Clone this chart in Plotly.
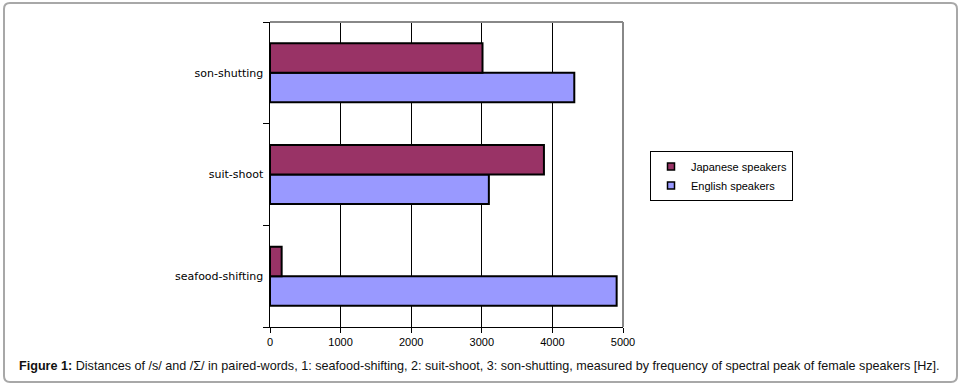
import plotly.graph_objects as go

categories = ["seafood-shifting", "suit-shoot", "son-shutting"]
japanese = [165, 3880, 3010]
english = [4910, 3100, 4310]
series_names = ["Japanese speakers", "English speakers"]
series_colors = ["#993366", "#9999FF"]
x_ticks = [0, 1000, 2000, 3000, 4000, 5000]
caption_bold = "Figure 1:"
caption_text = " Distances of /s/ and /Σ/ in paired-words, 1: seafood-shifting, 2: suit-shoot, 3: son-shutting, measured by frequency of spectral peak of female speakers [Hz]."

W, H = 964, 389
L, R, T, B = 270, 623, 22, 327  # plot area in px


def px(x):
    return (x - L) / (R - L)


def py(y):
    return (B - y) / (B - T)


fig = go.Figure()
fig.add_trace(go.Bar(
    y=categories, x=english, name=series_names[1], orientation="h",
    marker=dict(color=series_colors[1], line=dict(color="black", width=2)),
    showlegend=False,
))
fig.add_trace(go.Bar(
    y=categories, x=japanese, name=series_names[0], orientation="h",
    marker=dict(color=series_colors[0], line=dict(color="black", width=2)),
    showlegend=False,
))
# legend entries (small square swatches)
for name, col in zip(series_names, series_colors):
    fig.add_trace(go.Scatter(
        x=[None], y=[None], mode="markers", name=name,
        marker=dict(symbol="square", size=7, color=col, line=dict(color="black", width=1.5)),
    ))

# rounded frame
x0, x1, y0, y1, r = px(4), px(957), py(3), py(382), 6
rx, ry = r / (R - L), r / (B - T)
path = (f"M {x0+rx},{y0} L {x1-rx},{y0} Q {x1},{y0} {x1},{y0-ry} "
        f"L {x1},{y1+ry} Q {x1},{y1} {x1-rx},{y1} L {x0+rx},{y1} "
        f"Q {x0},{y1} {x0},{y1+ry} L {x0},{y0-ry} Q {x0},{y0} {x0+rx},{y0} Z")

shapes = [
    dict(type="path", xref="paper", yref="paper", path=path,
         line=dict(color="#A8A8A8", width=2), layer="below"),
    dict(type="line", xref="paper", yref="paper", x0=0, x1=1, y0=1, y1=1,
         line=dict(color="#888888", width=2)),
    dict(type="line", xref="paper", yref="paper", x0=1, x1=1, y0=0, y1=1,
         line=dict(color="#888888", width=2)),
]

fig.update_layout(
    width=W, height=H,
    margin=dict(l=L, r=W - R, t=T, b=H - B, pad=0),
    paper_bgcolor="white", plot_bgcolor="white",
    barmode="group", bargap=0.42, bargroupgap=0,
    font=dict(family="Liberation Sans, Arial, sans-serif", size=11, color="black"),
    xaxis=dict(range=[0, 5000], tickvals=x_ticks, showgrid=True, gridcolor="black",
               gridwidth=1, showline=True, linecolor="black", linewidth=1,
               ticks="outside", ticklen=5, tickcolor="black", zeroline=False,
               tickfont=dict(size=11, family="Liberation Sans, Arial, sans-serif")),
    yaxis=dict(categoryorder="array", categoryarray=categories, showgrid=False,
               showline=True, linecolor="black", linewidth=1, ticks="outside",
               tickson="boundaries", ticklen=6, tickcolor="black",
               ticksuffix=" ", tickfont=dict(size=11, family="DejaVu Sans, sans-serif")),
    showlegend=True,
    legend=dict(x=px(650), y=py(151), xanchor="left", yanchor="top",
                bordercolor="black", borderwidth=1, bgcolor="white",
                font=dict(size=11, family="Liberation Sans, Arial, sans-serif"),
                itemwidth=30, tracegroupgap=0),
    shapes=shapes,
    annotations=[dict(
        xref="paper", yref="paper", x=px(17), y=py(366), xanchor="left", yanchor="middle",
        text=f"<b>{caption_bold}</b>{caption_text}", showarrow=False,
        font=dict(size=12.6, color="#111111", family="Liberation Sans, Arial, sans-serif"),
    )],
)

fig.write_html("out.html", config={"displayModeBar": False},
               post_script="document.body.style.margin='0';document.body.style.overflow='hidden';")
